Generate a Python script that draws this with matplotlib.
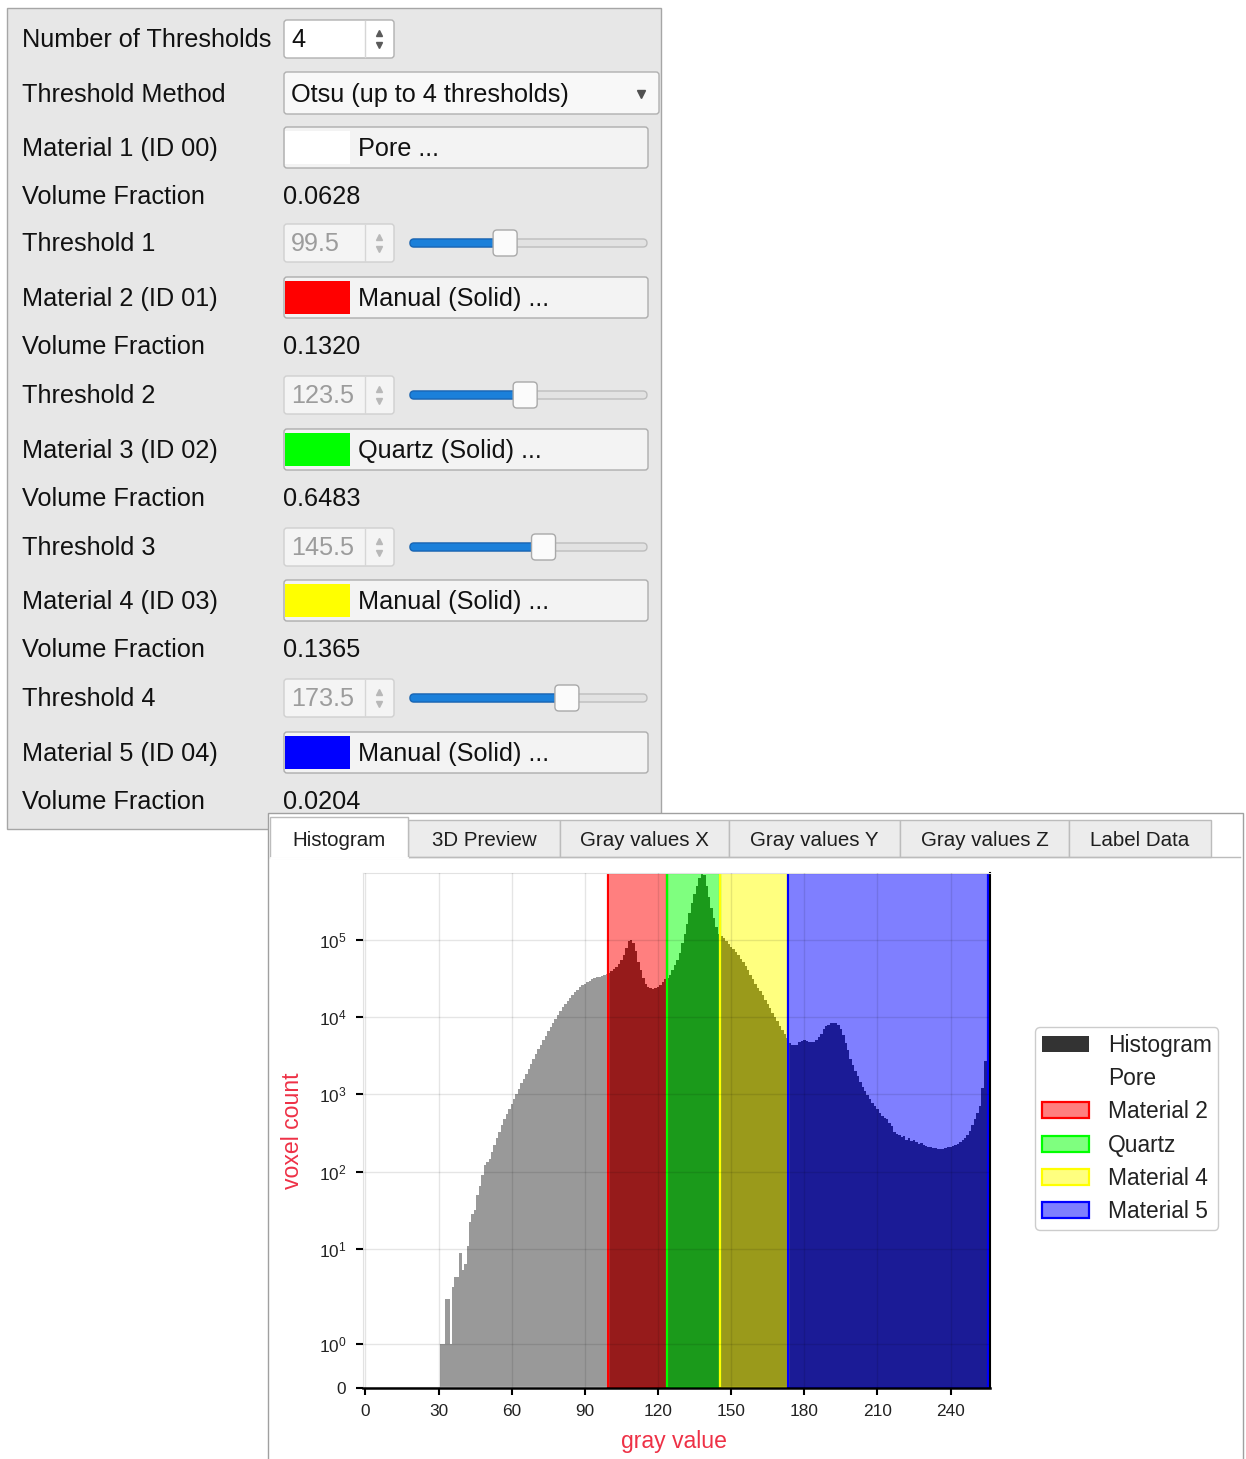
"""Threshold panel + gray value histogram (material segmentation view)."""

import numpy as np
import matplotlib
matplotlib.use("Agg")
import matplotlib.pyplot as plt
from matplotlib import font_manager
from matplotlib.colors import to_rgba
from matplotlib.patches import FancyBboxPatch, Patch, Rectangle

# ---- data ----------------------------------------------------------------
NUM_THRESHOLDS = "4"
THRESHOLD_METHOD = "Otsu (up to 4 thresholds)"
THRESHOLDS = [99.5, 123.5, 145.5, 173.5]
MATERIAL_LABELS = ["Material 1 (ID 00)", "Material 2 (ID 01)", "Material 3 (ID 02)",
                   "Material 4 (ID 03)", "Material 5 (ID 04)"]
MATERIAL_BUTTONS = ["Pore ...", "Manual (Solid) ...", "Quartz (Solid) ...",
                    "Manual (Solid) ...", "Manual (Solid) ..."]
MATERIAL_NAMES = ["Pore", "Material 2", "Quartz", "Material 4", "Material 5"]
MATERIAL_COLORS = ["#ffffff", "#ff0000", "#00ff00", "#ffff00", "#0000ff"]
VOLUME_FRACTIONS = ["0.0628", "0.1320", "0.6483", "0.1365", "0.0204"]
TABS = ["Histogram", "3D Preview", "Gray values X", "Gray values Y",
        "Gray values Z", "Label Data"]

# voxel count per gray value, starting at GRAY_START (everything below is 0)
GRAY_START = 31
COUNTS = [
    1, 1, 3, 3, 1, 4, 5, 5, 9, 6,                                   # 31-40
    7, 11, 22, 28, 32, 50, 65, 90, 120, 135,                        # 41-50
    145, 180, 220, 270, 330, 400, 480, 560, 650, 750,               # 51-60
    870, 1000, 1180, 1380, 1600, 1850, 2150, 2500, 2900, 3350,      # 61-70
    3850, 4400, 5000, 5700, 6500, 7400, 8400, 9500, 10700, 12000,   # 71-80
    13400, 14800, 16300, 17800, 19400, 21000, 22600, 24100, 25600, 27000,
    28300, 29500, 30600, 31600, 32500, 33300, 34100, 35000, 36000, 37200,
    39000, 41500, 44000, 48000, 54000, 64000, 78000, 95000, 100000, 92000,
    72000, 52000, 40000, 32000, 27000, 24500, 23500, 23000, 23500, 24500,
    26000, 28000, 31000, 32000, 35000, 40000, 47000, 55000, 68000, 90000,
    120000, 160000, 220000, 300000, 390000, 500000, 620000, 730000, 680000, 500000,
    360000, 260000, 190000, 145000, 120000, 112000, 104000, 96000, 88000, 81000,
    75000, 69000, 63000, 57000, 51000, 45500, 40000, 35000, 31000, 27000,
    24000, 21500, 19000, 16800, 14800, 13000, 11400, 10000, 8800, 7700,
    6800, 6000, 5300, 4600, 4400, 4300, 4400, 4700, 4900, 5000,
    4900, 4700, 4700, 4800, 5100, 5500, 6100, 6900, 7600, 8000,
    8300, 8400, 8300, 7800, 7000, 5800, 4600, 3700, 2900, 2400,
    2000, 1700, 1450, 1250, 1100, 980, 860, 770, 700, 640,
    580, 530, 500, 480, 420, 390, 330, 310, 300, 280,
    290, 260, 270, 250, 260, 240, 230, 235, 220, 215,
    210, 205, 200, 200, 198, 195, 198, 200, 205, 210,
    215, 222, 230, 240, 255, 275, 300, 340, 400, 480,
    580, 700, 1200, 2700, 2700,                                     # 251-255
]
X_TICKS = [0, 30, 60, 90, 120, 150, 180, 210, 240]
Y_TICKS = [0, 1, 10, 100, 1e3, 1e4, 1e5]
Y_TICK_LABELS = ["0", "$10^{0}$", "$10^{1}$", "$10^{2}$", "$10^{3}$",
                 "$10^{4}$", "$10^{5}$"]

# ---- style ---------------------------------------------------------------
W, H = 1246, 1459
HIST_SHADES = ["#999999", "#961b1b", "#1b9a1b", "#9a9a1b", "#1b1b96"]
LABEL_RED = "#ee3146"

plt.rcParams["font.family"] = ["Liberation Sans", "DejaVu Sans"]
plt.rcParams["mathtext.fontset"] = "custom"
plt.rcParams["mathtext.rm"] = "Liberation Sans"
plt.rcParams["mathtext.it"] = "Liberation Sans:italic"
plt.rcParams["mathtext.bf"] = "Liberation Sans:bold"


def pick_gui_font():
    try:
        font_manager.findfont(font_manager.FontProperties(family="Liberation Sans Narrow"),
                              fallback_to_default=False)
        return "Liberation Sans Narrow", 1 / 0.82
    except ValueError:
        return "Liberation Sans", 1.0


GUI_FAMILY, GUI_SCALE = pick_gui_font()
GUI_SIZE = 18.2 * GUI_SCALE
TAB_SIZE = 14.8 * GUI_SCALE


def box(ax, x0, y0, x1, y1, fc, ec, lw=1.0, r=0.0, z=1):
    style = f"round,pad=0,rounding_size={r}" if r else "square,pad=0"
    ax.add_patch(FancyBboxPatch((x0, y0), x1 - x0, y1 - y0, boxstyle=style,
                                facecolor=fc, edgecolor=ec, linewidth=lw, zorder=z))


def gui_text(ax, x, y, s, color="#111111", size=None, ha="left"):
    ax.text(x, y, s, ha=ha, va="center", color=color, family=GUI_FAMILY,
            fontsize=size or GUI_SIZE, zorder=5)


def spinbox(ax, yc, value, enabled):
    box(ax, 284, yc - 19, 394, yc + 19, "#ffffff" if enabled else "#f4f4f4",
        "#b0b0b0" if enabled else "#d0d0d0", r=3)
    ax.plot([365, 365], [yc - 18, yc + 18], color="#d6d6d6", lw=1, zorder=2)
    arrow = "#5a5a5a" if enabled else "#b8b8b8"
    ax.plot(379, yc - 6, marker="^", ms=5, color=arrow, zorder=3)
    ax.plot(379, yc + 6, marker="v", ms=5, color=arrow, zorder=3)
    gui_text(ax, 291, yc + 1, value, color="#111111" if enabled else "#9c9c9c")


def slider(ax, yc, value):
    hx = 422 + value / 255 * 213
    box(ax, 410, yc - 4, 647, yc + 4, "#e2e2e2", "#bdbdbd", r=4)
    box(ax, 410, yc - 4, hx, yc + 4, "#1b80da", "#1767b8", r=4, z=2)
    box(ax, hx - 12, yc - 13, hx + 12, yc + 13, "#fbfbfb", "#a9a9a9", r=4, z=3)


fig = plt.figure(figsize=(W / 100, H / 100), dpi=100)
bg = fig.add_axes([0, 0, 1, 1])
bg.set_xlim(0, W)
bg.set_ylim(H, 0)
bg.axis("off")
bg.set_zorder(0)

# ---- threshold settings panel --------------------------------------------
box(bg, 7, 8, 661, 829, "#e7e7e7", "#a6a6a6", lw=1.0)
row_y = [39, 94, 148, 196, 243, 298, 346, 395, 450, 498, 547, 601, 649, 698, 753, 801]

gui_text(bg, 22, row_y[0] + 1, "Number of Thresholds")
spinbox(bg, row_y[0], NUM_THRESHOLDS, True)

gui_text(bg, 22, row_y[1] + 1, "Threshold Method")
box(bg, 284, 72, 659, 114, "#f8f8f8", "#b0b0b0", r=3)
gui_text(bg, 291, row_y[1] + 1, THRESHOLD_METHOD)
bg.plot(641, row_y[1], marker="v", ms=6, color="#505050", zorder=3)

for i, name in enumerate(MATERIAL_LABELS):
    ym = row_y[2 + 3 * i]
    gui_text(bg, 22, ym + 1, name)
    box(bg, 284, ym - 21, 648, ym + 20, "#f3f3f3", "#adadad", r=3)
    bg.add_patch(Rectangle((285, ym - 17), 65, 33, facecolor=MATERIAL_COLORS[i],
                           edgecolor="none", zorder=2))
    gui_text(bg, 358, ym + 1, MATERIAL_BUTTONS[i])

    yv = row_y[3 + 3 * i]
    gui_text(bg, 22, yv + 1, "Volume Fraction")
    gui_text(bg, 283, yv + 1, VOLUME_FRACTIONS[i])

    if i < len(THRESHOLDS):
        yt = row_y[4 + 3 * i]
        gui_text(bg, 22, yt + 1, f"Threshold {i + 1}")
        spinbox(bg, yt, f"{THRESHOLDS[i]:.1f}", False)
        slider(bg, yt, THRESHOLDS[i])

# ---- tab widget -----------------------------------------------------------
box(bg, 268, 813, 1243, 1462, "#ffffff", "#a0a0a0", lw=1.0, z=6)
tab_x = [270, 408, 560, 729, 900, 1069, 1211]
for k, label in enumerate(TABS):
    if k == 0:
        continue
    box(bg, tab_x[k], 820, tab_x[k + 1], 857, "#ececec", "#bcbcbc", z=7)
bg.plot([408, 1240], [857, 857], color="#bcbcbc", lw=1, zorder=7)
box(bg, tab_x[0], 817, tab_x[1], 858, "#ffffff", "#bcbcbc", z=8)
bg.plot([tab_x[0] + 1, tab_x[1] - 1], [858, 858], color="#ffffff", lw=2, zorder=8)
for k, label in enumerate(TABS):
    bg.text((tab_x[k] + tab_x[k + 1]) / 2, 840, label, ha="center", va="center",
            family=GUI_FAMILY, fontsize=TAB_SIZE, color="#1e1e1e", zorder=9)

# ---- histogram ------------------------------------------------------------
A_LIN, B_DEC = 0.57, 1.23


def fwd(y):
    y = np.asarray(y, dtype=float)
    with np.errstate(divide="ignore", invalid="ignore"):
        ly = np.log10(np.clip(y, 1e-12, None))
    return np.where(y <= 1, y * A_LIN,
                    np.where(y <= 10, A_LIN + B_DEC * ly, A_LIN + B_DEC + (ly - 1)))


def inv(u):
    u = np.asarray(u, dtype=float)
    with np.errstate(over="ignore"):
        return np.where(u <= A_LIN, u / A_LIN,
                        np.where(u <= A_LIN + B_DEC, 10 ** ((u - A_LIN) / B_DEC),
                                 10 ** (u - A_LIN - B_DEC + 1)))


ax = fig.add_axes([363 / W, 1 - 1388 / H, 626.6 / W, 515 / H])
ax.set_zorder(10)
ax.set_facecolor("white")
ax.set_yscale("function", functions=(fwd, inv))

gray = np.arange(GRAY_START, GRAY_START + len(COUNTS))
counts = np.array(COUNTS, dtype=float)
edges = np.append(gray - 0.5, gray[-1] + 0.5)
bounds = [-np.inf] + THRESHOLDS + [np.inf]
for k in range(len(MATERIAL_NAMES)):
    idx = np.where((gray > bounds[k]) & (gray < bounds[k + 1]))[0]
    ax.stairs(counts[idx], edges[idx[0]:idx[-1] + 2], fill=True,
              color=HIST_SHADES[k], linewidth=0, zorder=1)

span_edges = [-0.5] + THRESHOLDS + [255.5]
handles = [Patch(facecolor="#333333", edgecolor="none", label="Histogram")]
for k, name in enumerate(MATERIAL_NAMES):
    c = MATERIAL_COLORS[k]
    ax.axvspan(span_edges[k], span_edges[k + 1], facecolor=to_rgba(c, 0.5),
               edgecolor="none", zorder=0.5)
    ax.axvspan(span_edges[k], span_edges[k + 1], facecolor="none",
               edgecolor=c, linewidth=1.6, zorder=1.5)
    handles.append(Patch(facecolor=to_rgba(c, 0.5), edgecolor=c, linewidth=1.6,
                         label=name))

ax.set_xlim(-1, 256)
ax.set_ylim(0, 7.3e5)
ax.set_xticks(X_TICKS)
ax.set_yticks(Y_TICKS)
ax.set_yticklabels(Y_TICK_LABELS)
ax.yaxis.set_minor_locator(matplotlib.ticker.NullLocator())

ax.grid(True, color="black", alpha=0.1, linewidth=1)
ax.set_axisbelow(False)
for side in ("left", "top"):
    ax.spines[side].set_color("#e2e2e2")
ax.spines["bottom"].set_color("black")
ax.spines["bottom"].set_linewidth(1.8)
ax.spines["right"].set_color("black")
ax.spines["right"].set_linewidth(1.5)

ax.tick_params(axis="both", direction="out", length=5, width=1.5, color="black",
               labelsize=12.4, labelcolor="#222222")
ax.tick_params(axis="x", pad=6.5)
ax.tick_params(axis="y", pad=7)

ax.set_xlabel("gray value", color=LABEL_RED, fontsize=16.6)
ax.set_ylabel("voxel count", color=LABEL_RED, fontsize=16.6)
ax.xaxis.set_label_coords(0.496, -0.081)
ax.yaxis.set_label_coords(-0.094, 0.5)

ax.legend(handles=handles, loc="upper left", bbox_to_anchor=(1035 / W, 1 - 1027 / H),
          bbox_transform=fig.transFigure, borderaxespad=0, fontsize=16.4,
          handlelength=2.06, handleheight=0.7, handletextpad=0.83,
          labelspacing=0.45, borderpad=0.3, frameon=True, fancybox=True,
          edgecolor="#cccccc", framealpha=1.0, labelcolor="#222222")

fig.savefig("out.png", dpi=100)
plt.close(fig)
